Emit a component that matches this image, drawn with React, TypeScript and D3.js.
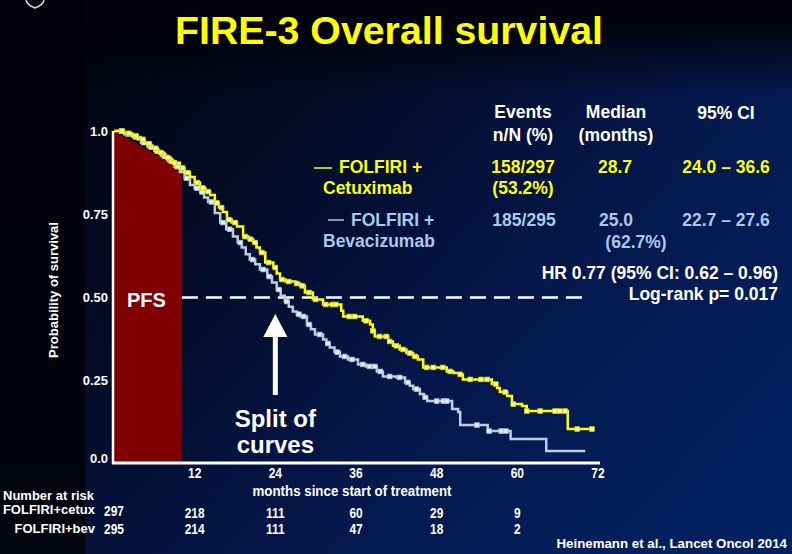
import React from 'react';
import * as d3 from 'd3';

const W = 792;
const H = 554;

const titleText = 'FIRE-3 Overall survival';
const xTicks = [12, 24, 36, 48, 60, 72];
const yTicks = [0, 0.25, 0.5, 0.75, 1.0];
const yTickLabels = ['0.0', '0.25', '0.50', '0.75', '1.0'];

// Kaplan-Meier step events: [month, survival after drop]
const cetuxSteps: [number, number][] = [
  [0, 1], [1.5, 0.993], [2.7, 0.985], [3.5, 0.975], [4.5, 0.962], [5.5, 0.948], [6.5, 0.935],
  [7.5, 0.92], [8.5, 0.905], [9.8, 0.889], [10.5, 0.875], [11.3, 0.862], [12, 0.845], [12.8, 0.829],
  [13.6, 0.818], [14.3, 0.808], [15, 0.784], [15.6, 0.77], [16.2, 0.757], [16.8, 0.734], [17.5, 0.725],
  [18.3, 0.713], [19.2, 0.683], [20, 0.675], [20.7, 0.665], [21.2, 0.65], [21.7, 0.635], [22.5, 0.605],
  [23.7, 0.59], [24.2, 0.572], [24.7, 0.554], [25.5, 0.548], [27, 0.542], [27.7, 0.535], [28.4, 0.515],
  [29.6, 0.494], [31.1, 0.479], [33.8, 0.46], [34.1, 0.443], [37, 0.43], [38.1, 0.419], [38.5, 0.4],
  [38.8, 0.383], [40.8, 0.368], [41.5, 0.355], [42.5, 0.344], [43.5, 0.333], [44.5, 0.323], [45.2, 0.314],
  [46, 0.29], [49.5, 0.278], [50.5, 0.273], [51.5, 0.269], [51.9, 0.254], [56.2, 0.24], [57, 0.228],
  [57.4, 0.216], [58.5, 0.204], [59.2, 0.18], [60.7, 0.174], [61.4, 0.159], [67.5, 0.105],
];
const cetuxEnd = 71.1;
const cetuxCensor = [
  1.2, 2.2, 3.3, 4.3, 5.2, 6.2, 7, 8, 9, 10.2, 11, 12.4, 13.2, 14, 15.3, 16, 17.1, 18, 19.5, 20.3,
  21, 22, 23, 24, 25, 26, 27.2, 28, 29, 30, 31.5, 32.5, 33, 35, 35.8, 37.5, 38.5, 39.5, 40.5, 41, 42,
  43, 44, 44.8, 46.5, 47.5, 48.9, 50, 51.5, 53, 54.6, 55.5, 56.8, 58.2, 59.4, 61.4, 63.4, 65.6, 66.3,
  67.1, 68.9, 71.1,
];

const bevSteps: [number, number][] = [
  [0, 1], [1.5, 0.99], [2.8, 0.982], [4, 0.965], [5, 0.952], [6, 0.94], [7, 0.925], [8, 0.91],
  [9, 0.893], [9.8, 0.877], [10.5, 0.858], [11.3, 0.838], [12, 0.828], [12.8, 0.817], [13.4, 0.8],
  [14, 0.787], [15, 0.754], [15.8, 0.725], [16.7, 0.705], [17.7, 0.683], [18.4, 0.665], [19, 0.65],
  [19.6, 0.63], [20.2, 0.614], [21, 0.6], [21.7, 0.584], [22.8, 0.563], [23.5, 0.545], [24.2, 0.524],
  [24.8, 0.505], [25.4, 0.488], [26, 0.472], [26.6, 0.458], [27.2, 0.45], [27.7, 0.443], [28.7, 0.419],
  [29.3, 0.405], [29.9, 0.389], [31.1, 0.374], [31.6, 0.362], [32.1, 0.35], [32.8, 0.336], [33.6, 0.323],
  [34.8, 0.314], [36.3, 0.299], [37.5, 0.293], [39.1, 0.278], [40, 0.263], [42, 0.26], [43.3, 0.245],
  [44, 0.235], [44.5, 0.225], [45.5, 0.21], [46.1, 0.2], [46.6, 0.189], [50.3, 0.165], [51.2, 0.156],
  [51.5, 0.117], [55.6, 0.099], [59, 0.075], [64.3, 0.039],
];
const bevEnd = 70.1;
const bevCensor = [
  1.1, 2.1, 3.2, 4.4, 5.5, 6.4, 7.5, 8.5, 9.4, 10.8, 12.3, 13.1, 14.5, 16.2, 17.2, 18.8, 20.6, 22.2,
  23.1, 24.5, 25.7, 27.5, 28.2, 29, 30.6, 31.8, 33.2, 34.3, 35.4, 37, 38, 38.8, 39.6, 41, 42.5,
  43.7, 45, 46.3, 48, 49, 49.5, 54, 55.8, 57.6, 58.3,
];

const riskTimes = [0, 12, 24, 36, 48, 60];
const riskCetux = [297, 218, 111, 60, 29, 9];
const riskBev = [295, 214, 111, 47, 18, 2];

const pfsMonths = 10.1;
const pfsTop = 0.885;
const medianLevel = 0.5;
const splitMonth = 24;

const FONT = '"Liberation Sans", Arial, Helvetica, sans-serif';
const YELLOW = '#ffff00';
const BEV_LINE = '#b9cde6';
const BEV_TEXT = '#a9c9ec';

function survAt(steps: [number, number][], t: number) {
  let s = 1;
  for (const [tt, v] of steps) {
    if (tt <= t) s = v;
    else break;
  }
  return s;
}

function CText(props: any) {
  const { x, y, sx = 0.8, anchor = 'middle', size = 15, fill = '#fff', children } = props;
  return (
    <text
      transform={`translate(${x},${y}) scale(${sx},1)`}
      textAnchor={anchor}
      fontSize={size}
      fontWeight="bold"
      fill={fill}
      fontFamily={FONT}
    >
      {children}
    </text>
  );
}

export default function App() {
  const x = d3.scaleLinear().domain([0, 72]).range([114, 598]);
  const y = d3.scaleLinear().domain([0, 1]).range([464, 131]);

  const stepLine = d3
    .line<[number, number]>()
    .x((d) => x(d[0]))
    .y((d) => y(d[1]))
    .curve(d3.curveStepAfter);

  const cetuxPts: [number, number][] = [...cetuxSteps, [cetuxEnd, cetuxSteps[cetuxSteps.length - 1][1]]];
  const bevPts: [number, number][] = [...bevSteps, [bevEnd, bevSteps[bevSteps.length - 1][1]]];

  const pfsPoly = [
    [x(0), y(1)],
    [x(pfsMonths), y(pfsTop)],
    [x(pfsMonths), y(0)],
    [x(0), y(0)],
  ]
    .map((p) => p.join(','))
    .join(' ');

  const ax = x(splitMonth);

  const legendText = (t: string, xx: number, yy: number, fill: string, anchor = 'start') => (
    <text x={xx} y={yy} fill={fill} fontSize={17.5} fontWeight="bold" fontFamily={FONT} textAnchor={anchor}>
      {t}
    </text>
  );

  return (
    <svg
      width={W}
      height={H}
      viewBox={`0 0 ${W} ${H}`}
      style={{ position: 'absolute', left: 0, top: 0, display: 'block' }}
    >
      <defs>
        <linearGradient id="bgL" x1="0" y1="0" x2="0" y2="1">
          <stop offset="0" stopColor="#010209" />
          <stop offset="1" stopColor="#02040f" />
        </linearGradient>
        <linearGradient id="bgMain" x1="0" y1="0" x2="1" y2="0.7">
          <stop offset="0" stopColor="#02040f" />
          <stop offset="0.3" stopColor="#030b26" />
          <stop offset="0.65" stopColor="#04174a" />
          <stop offset="1" stopColor="#03205e" />
        </linearGradient>
        <linearGradient id="bgTop" x1="0" y1="0" x2="0" y2="1">
          <stop offset="0" stopColor="#010208" stopOpacity="0.9" />
          <stop offset="1" stopColor="#010208" stopOpacity="0" />
        </linearGradient>
      </defs>

      {/* background */}
      <rect x={0} y={0} width={W} height={H} fill="url(#bgL)" />
      <rect x={85} y={24} width={W - 85} height={H - 24} fill="url(#bgMain)" />
      <rect x={85} y={0} width={W - 85} height={24} fill="#02030c" />
      <rect x={85} y={24} width={W - 85} height={70} fill="url(#bgTop)" />

      {/* small logo mark */}
      <path d="M26,0 Q27,5 35,8 Q43,5 44,0" fill="none" stroke="#d8d8e0" strokeWidth={1.5} />

      {/* title */}
      <text
        x={175}
        y={43.5}
        fill={YELLOW}
        fontSize={38}
        fontWeight="bold"
        fontFamily={FONT}
        textLength={428}
        lengthAdjust="spacingAndGlyphs"
      >
        {titleText}
      </text>

      {/* PFS region */}
      <polygon points={pfsPoly} fill="#800000" />
      <text x={127} y={307} fill="#fff" fontSize={20} fontWeight="bold" fontFamily={FONT}>
        PFS
      </text>

      {/* median dashed line */}
      <line
        x1={x(pfsMonths)}
        x2={587}
        y1={y(medianLevel)}
        y2={y(medianLevel)}
        stroke="#fff"
        strokeWidth={2.5}
        strokeDasharray="16 8"
      />

      {/* curves */}
      <path d={stepLine(bevPts) || ''} fill="none" stroke={BEV_LINE} strokeWidth={2.5} />
      {bevCensor.map((t, i) => (
        <rect
          key={'bc' + i}
          x={x(t) - 2.3}
          y={y(survAt(bevSteps, t)) - 2.3}
          width={4.6}
          height={4.6}
          fill="#e4ecf6"
          stroke="#a9bfdc"
          strokeWidth={0.8}
        />
      ))}
      <path d={stepLine(cetuxPts) || ''} fill="none" stroke={YELLOW} strokeWidth={2.5} />
      {cetuxCensor.map((t, i) => (
        <rect
          key={'cc' + i}
          x={x(t) - 2.3}
          y={y(survAt(cetuxSteps, t)) - 2.3}
          width={4.6}
          height={4.6}
          fill="#ffff9a"
          stroke="#d6d600"
          strokeWidth={0.8}
        />
      ))}

      {/* axes */}
      <line x1={113} x2={113} y1={y(1)} y2={y(0)} stroke="#fff" strokeWidth={2.5} />
      <line x1={112} x2={600} y1={y(0) - 1} y2={y(0) - 1} stroke="#fff" strokeWidth={3} />

      {yTicks.map((v, i) => (
        <text
          key={'yt' + i}
          x={108}
          y={(v === 0 ? y(v) - 6 : y(v)) + 4.5}
          textAnchor="end"
          fill="#fff"
          fontSize={13}
          fontWeight="bold"
          fontFamily={FONT}
        >
          {yTickLabels[i]}
        </text>
      ))}
      <text
        transform={`translate(57.5,290) rotate(-90)`}
        textAnchor="middle"
        fill="#fff"
        fontSize={13}
        fontWeight="bold"
        fontFamily={FONT}
      >
        Probability of survival
      </text>

      {xTicks.map((t, i) => (
        <CText key={'xt' + i} x={x(t)} y={478} size={15} sx={0.8}>
          {String(t)}
        </CText>
      ))}
      <text
        x={352}
        y={496}
        textAnchor="middle"
        fill="#fff"
        fontSize={15}
        fontWeight="bold"
        fontFamily={FONT}
        textLength={199}
        lengthAdjust="spacingAndGlyphs"
      >
        months since start of treatment
      </text>

      {/* arrow + annotation */}
      <rect x={ax - 2.5} y={336} width={5} height={59} fill="#fff" />
      <polygon points={`${ax - 12},337 ${ax},314 ${ax + 12},337`} fill="#fff" />
      <text x={ax} y={427} textAnchor="middle" fill="#fff" fontSize={24} fontWeight="bold" fontFamily={FONT}>
        Split of
      </text>
      <text x={ax} y={453} textAnchor="middle" fill="#fff" fontSize={24} fontWeight="bold" fontFamily={FONT}>
        curves
      </text>

      {/* legend table */}
      {legendText('Events', 523, 118, '#fff', 'middle')}
      {legendText('n/N (%)', 523, 141, '#fff', 'middle')}
      {legendText('Median', 616, 118, '#fff', 'middle')}
      {legendText('(months)', 616, 141, '#fff', 'middle')}
      {legendText('95% CI', 726, 119, '#fff', 'middle')}

      <line x1={314} x2={332} y1={168} y2={168} stroke={YELLOW} strokeWidth={1.5} />
      {legendText('FOLFIRI +', 339, 173, YELLOW)}
      {legendText('Cetuximab', 323, 194, YELLOW)}
      {legendText('158/297', 523, 173, YELLOW, 'middle')}
      {legendText('(53.2%)', 523, 194, YELLOW, 'middle')}
      {legendText('28.7', 615, 173, YELLOW, 'middle')}
      {legendText('24.0 – 36.6', 726, 173, YELLOW, 'middle')}

      <line x1={328} x2={344} y1={220} y2={220} stroke={BEV_TEXT} strokeWidth={1.5} />
      {legendText('FOLFIRI +', 351, 226, BEV_TEXT)}
      {legendText('Bevacizumab', 323, 247, BEV_TEXT)}
      {legendText('185/295', 524, 226, BEV_TEXT, 'middle')}
      {legendText('25.0', 616, 226, BEV_TEXT, 'middle')}
      {legendText('(62.7%)', 636, 248, BEV_TEXT, 'middle')}
      {legendText('22.7 – 27.6', 726, 226, BEV_TEXT, 'middle')}

      {legendText('HR 0.77 (95% CI: 0.62 – 0.96)', 778, 279, '#fff', 'end')}
      {legendText('Log-rank p= 0.017', 778, 300, '#fff', 'end')}

      {/* number at risk */}
      <text x={3} y={500} fill="#fff" fontSize={13} fontWeight="bold" fontFamily={FONT}>
        Number at risk
      </text>
      <text x={95} y={514} textAnchor="end" fill="#fff" fontSize={13} fontWeight="bold" fontFamily={FONT}>
        FOLFIRI+cetux
      </text>
      <text x={95} y={533} textAnchor="end" fill="#fff" fontSize={13} fontWeight="bold" fontFamily={FONT}>
        FOLFIRI+bev
      </text>
      {riskTimes.map((t, i) => (
        <CText key={'rc' + i} x={x(t)} y={i === 0 ? 516 : 518} size={14} sx={0.85}>
          {String(riskCetux[i])}
        </CText>
      ))}
      {riskTimes.map((t, i) => (
        <CText key={'rb' + i} x={x(t)} y={534} size={14} sx={0.85}>
          {String(riskBev[i])}
        </CText>
      ))}

      <text x={787} y={548} textAnchor="end" fill="#fff" fontSize={13.3} fontWeight="bold" fontFamily={FONT}>
        Heinemann et al., Lancet Oncol 2014
      </text>
    </svg>
  );
}
